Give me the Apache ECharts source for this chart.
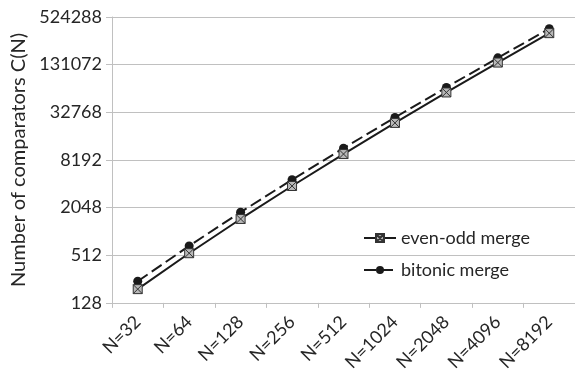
<!DOCTYPE html>
<html>
<head>
<meta charset="utf-8">
<script src="https://cdn.jsdelivr.net/npm/echarts@6/dist/echarts.min.js"></script>
<style>
  html, body { margin: 0; padding: 0; background: #fff; }
  #chart { width: 575px; height: 374px; }
</style>
</head>
<body>
<div id="chart"></div>
<script>
// Comparator counts for merging networks, by input size N
const categories = ['N=32', 'N=64', 'N=128', 'N=256', 'N=512', 'N=1024', 'N=2048', 'N=4096', 'N=8192'];
const evenOddMerge = [191, 543, 1471, 3839, 9727, 24063, 58367, 139263, 327679];
const bitonicMerge = [240, 672, 1792, 4608, 11520, 28160, 67584, 159744, 372736];
const yMin = 128;
const yMax = 524288;

const FONT = 'Lato, "Open Sans", sans-serif';
const TEXT = '#262626';
const GRID = '#c0c0c0';

// square with a cross inside
const crossBox = 'path://M0,0L10,0L10,10L0,10Z M0,0L10,10 M10,0L0,10';

const chart = echarts.init(document.getElementById('chart'), null, { renderer: 'canvas' });
chart.setOption({
  animation: false,
  backgroundColor: '#fff',
  grid: { left: 112, top: 17, width: 468, bottom: 69, containLabel: false },
  legend: {
    orient: 'vertical',
    left: 358,
    top: 224,
    itemWidth: 32,
    itemHeight: 10,
    itemGap: 14,
    textStyle: { fontFamily: FONT, fontSize: 18, color: TEXT },
    data: ['even-odd merge', 'bitonic merge']
  },
  xAxis: {
    type: 'category',
    data: categories,
    boundaryGap: true,
    axisLine: { lineStyle: { color: GRID, width: 1 } },
    axisTick: { show: true, length: 5, lineStyle: { color: GRID } },
    axisLabel: { rotate: 45, margin: 16, fontFamily: FONT, fontSize: 18, color: TEXT }
  },
  yAxis: {
    type: 'log',
    logBase: 2,
    min: yMin,
    max: yMax,
    interval: 2,
    name: 'Number of comparators C(N)',
    nameLocation: 'middle',
    nameGap: 82,
    nameTextStyle: { fontFamily: FONT, fontSize: 20, color: TEXT },
    axisLine: { show: true, lineStyle: { color: GRID, width: 1 } },
    axisTick: { show: true, length: 6, lineStyle: { color: GRID } },
    splitLine: { show: true, lineStyle: { color: GRID, width: 1 } },
    axisLabel: {
      fontFamily: FONT, fontSize: 18, color: TEXT, margin: 10,
      formatter: v => String(Math.round(v))
    }
  },
  series: [
    {
      name: 'even-odd merge',
      type: 'line',
      data: evenOddMerge,
      symbol: crossBox,
      symbolSize: 9,
      lineStyle: { color: '#1a1a1a', width: 2 },
      itemStyle: { color: '#b8b8b8', borderColor: '#333', borderWidth: 1 },
      z: 3
    },
    {
      name: 'bitonic merge',
      type: 'line',
      data: bitonicMerge,
      symbol: 'circle',
      symbolSize: 9,
      lineStyle: { color: '#1a1a1a', width: 2, type: [12, 5] },
      itemStyle: { color: '#1a1a1a', borderColor: '#1a1a1a', borderWidth: 0 },
      z: 2
    }
  ]
});
</script>
</body>
</html>
